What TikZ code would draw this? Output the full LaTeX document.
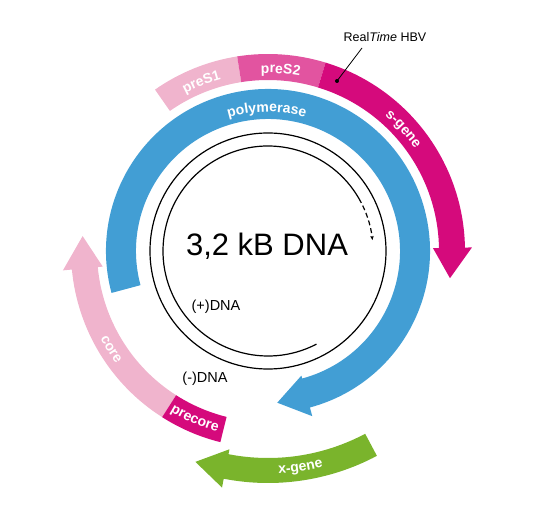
\documentclass[tikz,border=0pt]{standalone}
\usepackage{fontspec}
\setmainfont{Liberation Sans}
\usetikzlibrary{decorations.text,arrows.meta}
\definecolor{hbvblue}{RGB}{66,158,212}
\definecolor{hbvmag}{RGB}{213,10,124}
\definecolor{hbvmid}{RGB}{226,84,160}
\definecolor{hbvlight}{RGB}{240,180,205}
\definecolor{hbvgreen}{RGB}{122,180,44}
% #1 colour, #2 start angle, #3 head base angle, #4 tip angle, #5 inner r, #6 outer r, #7 head inner r, #8 head outer r, #9 tip r
\newcommand{\hbvarrow}[9]{%
  \fill[#1] (#2:#5pt) arc[start angle=#2, end angle=#3, radius=#5pt] -- (#3:#7pt) -- (#4:#9pt) -- (#3:#8pt) -- (#3:#6pt) arc[start angle=#3, end angle=#2, radius=#6pt] -- cycle;}
% #1 colour, #2 start, #3 end, #4 inner r, #5 outer r
\newcommand{\hbvband}[5]{%
  \fill[#1] (#2:#4pt) arc[start angle=#2, end angle=#3, radius=#4pt] -- (#3:#5pt) arc[start angle=#3, end angle=#2, radius=#5pt] -- cycle;}
% #1 text, #2 start angle, #3 end angle, #4 baseline radius
\newcommand{\hbvlabel}[4]{%
  \path[decorate, decoration={text along path, text={|\bfseries\fontsize{14}{16}\selectfont|#1}, text align=center, text color=white}] (#2:#4pt) arc[start angle=#2, end angle=#3, radius=#4pt];}
\tikzset{dnaline/.style={line width=1.2pt, black}}
\begin{document}
\begin{tikzpicture}
\useasboundingbox (-268pt,-263pt) rectangle (279pt,251pt);
% preS ring
\hbvband{hbvlight}{125}{99}{171}{197}
\hbvband{hbvmid}{99}{73}{171}{197}
% s-gene
\hbvarrow{hbvmag}{73}{1}{-8.5}{171}{197}{165}{204}{184}
% polymerase
\hbvarrow{hbvblue}{195}{-75}{-86.5}{132}{162}{129}{171}{152}
% core and precore
\hbvarrow{hbvlight}{237.5}{185.4}{175.4}{171}{197}{166}{206}{186}
\hbvband{hbvmag}{256}{237.5}{171}{197}
% x-gene
\hbvarrow{hbvgreen}{-62}{-101}{-109}{207}{232}{202}{241}{223}
% labels on arcs
\hbvlabel{polymerase}{120.5}{60.5}{139}
\hbvlabel{preS1}{131.5}{91.5}{178}
\hbvlabel{preS2}{106}{66}{178}
\hbvlabel{s-gene}{62}{22}{179}
\hbvlabel{core}{192}{232}{189}
\hbvlabel{precore}{226.5}{266.5}{188}
\hbvlabel{x-gene}{258.5}{298.5}{223}
% DNA circles
\draw[dnaline] (0pt,0pt) circle[radius=118pt];
\draw[dnaline] (-62.5:105pt) arc[start angle=-62.5, end angle=-330, radius=105pt];
\draw[dnaline, dash pattern=on 5pt off 3pt, -{Stealth[length=4pt,width=3.5pt]}] (30:105pt) arc[start angle=30, end angle=6, radius=105pt];
% texts
\node[font=\fontsize{31}{31}\selectfont] (title) at (-1pt,5pt) {3,2 kB DNA};
\node[font=\fontsize{14.5}{15}\selectfont] (plus) at (-52pt,-56pt) {(+)DNA};
\node[font=\fontsize{14.5}{15}\selectfont] (minus) at (-63pt,-128pt) {(-)DNA};
\node[font=\fontsize{12.5}{13}\selectfont] (rt) at (117pt,214pt) {Real\textit{Time} HBV};
\coordinate (dot) at (69pt,170pt);
\coordinate (lt) at (94pt,203pt);
\draw[line width=0.8pt] (dot) -- (lt);
\fill (dot) circle[radius=2pt];
\end{tikzpicture}
\end{document}
